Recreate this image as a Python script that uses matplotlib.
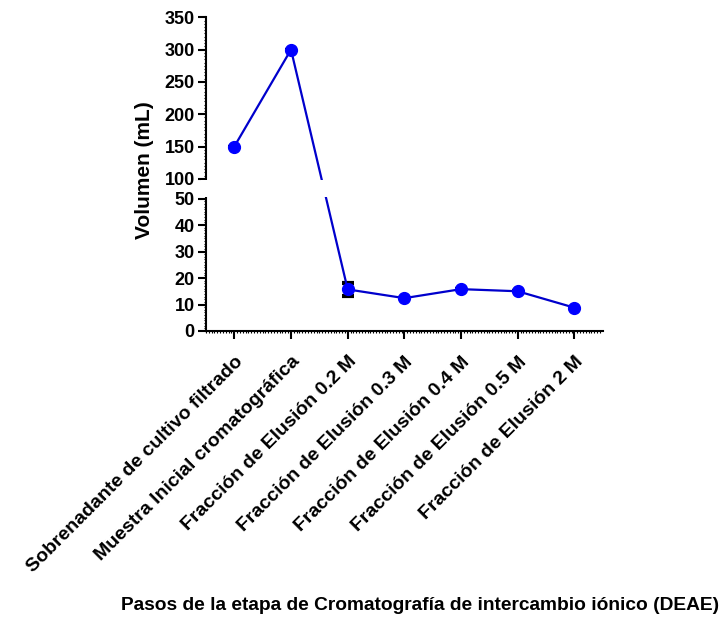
import numpy as np
import matplotlib
matplotlib.use("Agg")
import matplotlib.pyplot as plt
import matplotlib.transforms as mtransforms
from matplotlib.patches import Rectangle

plt.rcParams['font.family'] = ['Liberation Sans', 'DejaVu Sans']
plt.rcParams['font.weight'] = 'bold'

# data
pasos = ["Sobrenadante de cultivo filtrado",
         "Muestra Inicial cromatográfica",
         "Fracción de Elusión 0.2 M",
         "Fracción de Elusión 0.3 M",
         "Fracción de Elusión 0.4 M",
         "Fracción de Elusión 0.5 M",
         "Fracción de Elusión 2 M"]
volumen = [150, 300, 15.7, 12.4, 15.8, 15.0, 8.8]
error = [0, 0, 2.6, 0, 0, 0, 0]

lower_ticks = [0, 10, 20, 30, 40, 50]
upper_ticks = [100, 150, 200, 250, 300, 350]

# broken axis: 0-50 and 100-350 with a gap in between
BRK_LO, BRK_HI = 50, 100
G = 0.149   # compression of the gap
R = 0.244   # compression of the upper segment


def _fwd(y):
    y = np.asarray(y, dtype=float)
    return np.where(y <= BRK_LO, y,
                    np.where(y <= BRK_HI, BRK_LO + (y - BRK_LO) * G,
                             BRK_LO + (BRK_HI - BRK_LO) * G + (y - BRK_HI) * R))


def _inv(u):
    u = np.asarray(u, dtype=float)
    u2 = BRK_LO + (BRK_HI - BRK_LO) * G
    return np.where(u <= BRK_LO, u,
                    np.where(u <= u2, BRK_LO + (u - BRK_LO) / G,
                             BRK_HI + (u - u2) / R))


fig = plt.figure(figsize=(7.24, 6.19), dpi=100)
ax = fig.add_axes([0.2845, 0.4653, 0.548, 0.5067])
ax.set_yscale('function', functions=(_fwd, _inv))

x = np.arange(len(pasos))
ax.errorbar(x, volumen, yerr=error, fmt='none', ecolor='black',
            elinewidth=2, capsize=4.2, capthick=3, zorder=3)
ax.plot(x, volumen, color='#0000CC', lw=1.6, marker='o', markersize=8.5,
        markerfacecolor='#0000FF', markeredgecolor='#0000FF', zorder=4)

ax.set_xlim(-0.5, len(pasos) - 0.5)
ax.set_ylim(0, 350)

# blank out the gap (line and spine)
trans = mtransforms.blended_transform_factory(ax.transAxes, ax.transData)
ax.add_patch(Rectangle((-0.012, BRK_LO + 3), 1.03, (BRK_HI - BRK_LO) - 6,
                       transform=trans, facecolor='white', edgecolor='none',
                       zorder=5, clip_on=False))

for s in ['top', 'right']:
    ax.spines[s].set_visible(False)
for s in ['left', 'bottom']:
    ax.spines[s].set_linewidth(1.5)

ax.set_yticks(lower_ticks + upper_ticks)
ax.set_yticks(list(range(0, 51, 1)) + list(range(100, 351, 5)), minor=True)
ax.set_xticks(x)
ax.set_xticks(np.arange(-0.5, len(pasos) - 0.5, 0.05), minor=True)
ax.set_xticklabels(pasos, rotation=45, ha='right', rotation_mode='anchor',
                   fontsize=14, fontweight='bold')
ax.tick_params(axis='y', which='major', direction='out', length=6, width=1.5,
               labelsize=13, pad=2)
ax.tick_params(axis='x', which='major', direction='out', length=6, width=1.5,
               pad=10)
ax.tick_params(which='minor', direction='out', length=1.5, width=0.8)
for lab in ax.get_yticklabels():
    lab.set_fontweight('bold')

fig.text(145 / 724, 1 - 170 / 619, "Volumen (mL)", rotation=90,
         ha='center', va='center', fontsize=15, fontweight='bold')
fig.text(420 / 724, 1 - 606 / 619,
         "Pasos de la etapa de Cromatografía de intercambio iónico (DEAE)",
         ha='center', va='center', fontsize=13.8, fontweight='bold')

fig.savefig("out.png", dpi=100)
